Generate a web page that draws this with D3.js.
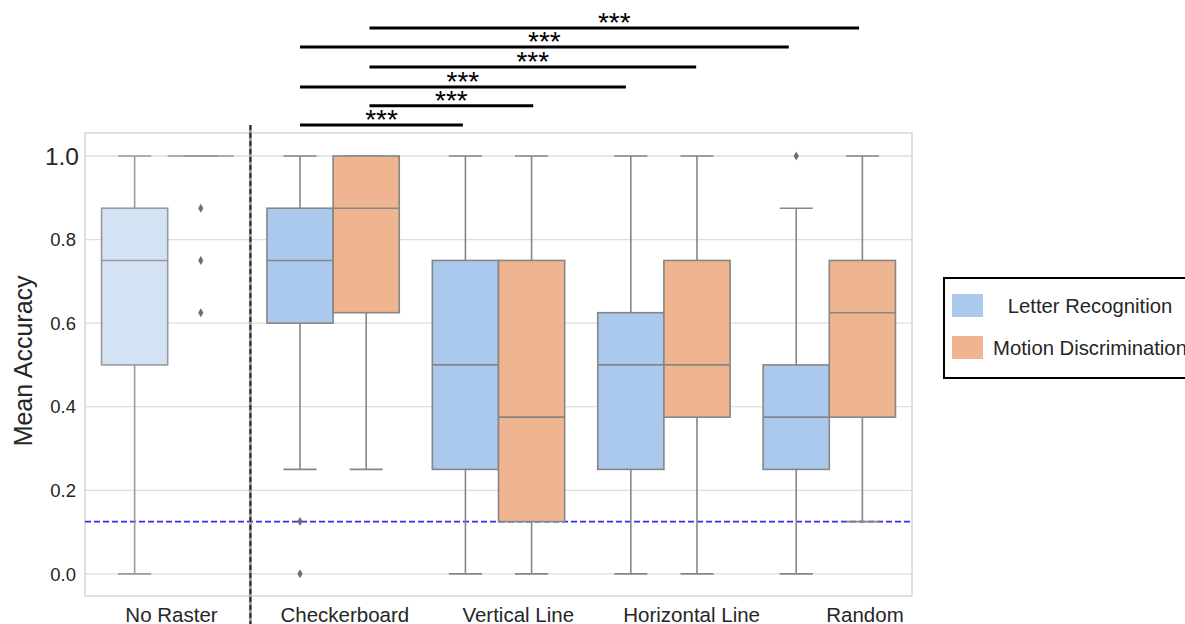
<!DOCTYPE html>
<html lang="en">
<head>
    <meta charset="UTF-8">
    <title>Mean Accuracy by Raster Type</title>
    <script src="https://d3js.org/d3.v7.min.js"></script>
    <style>
        body {
            margin: 0;
            background: #fff;
        }
        svg {
            display: block;
            font-family: "Liberation Sans", Arial, sans-serif;
        }
        .tick-label {
            fill: #262626;
            font-size: 18.5px;
        }
        .x-label {
            fill: #262626;
            font-size: 20.5px;
            text-anchor: middle;
        }
        .legend-text {
            fill: #262626;
            font-size: 20.3px;
            text-anchor: middle;
        }
    </style>
</head>
<body>
    <svg id="chart" width="1185" height="624"></svg>

    <script>
        const groups = ["No Raster", "Checkerboard", "Vertical Line", "Horizontal Line", "Random"];
        const seriesNames = ["Letter Recognition", "Motion Discrimination"];

        // [lower whisker, q1, median, q3, upper whisker]
        const letterStats = [
            [0, 0.5, 0.75, 0.875, 1],
            [0.25, 0.6, 0.75, 0.875, 1],
            [0, 0.25, 0.5, 0.75, 1],
            [0, 0.25, 0.5, 0.625, 1],
            [0, 0.25, 0.375, 0.5, 0.875]
        ];
        const letterOutliers = [[], [0.125, 0], [], [], [1]];

        const motionStats = [
            [1, 1, 1, 1, 1],
            [0.25, 0.625, 0.875, 1, 1],
            [0, 0.125, 0.375, 0.75, 1],
            [0, 0.375, 0.5, 0.75, 1],
            [0.125, 0.375, 0.625, 0.75, 1]
        ];
        const motionOutliers = [[0.875, 0.75, 0.625], [], [], [], []];

        const yTicks = [0, 0.2, 0.4, 0.6, 0.8, 1.0];
        const chanceLevel = 0.125;

        // significance brackets, x in category units (0 = No Raster), y in accuracy units
        const sigStart = [0.8, 1.22, 0.8, 1.22, 0.8, 1.22];
        const sigEnd = [1.785, 2.21, 2.77, 3.195, 3.755, 4.18];
        const sigLevel = [1.074, 1.12, 1.165, 1.213, 1.261, 1.306];
        const sigLabel = ["***", "***", "***", "***", "***", "***"];

        const margin = {top: 133, right: 273, bottom: 28, left: 85};
        const width = 1185 - margin.left - margin.right;
        const height = 624 - margin.top - margin.bottom;

        const colors = ["#abc9ec", "#efb590"];
        const lineGray = "#868686";

        const svg = d3.select("#chart");
        const g = svg.append("g").attr("transform", `translate(${margin.left},${margin.top})`);

        const xScale = d3.scaleBand().domain(groups).range([0, width]).padding(0);
        const bw = xScale.bandwidth();
        const catX = u => (u + 0.5) * bw; // category units to pixels
        const yScale = d3.scaleLinear().domain([-0.053, 1.055]).range([height, 0]);

        // grid
        g.selectAll(".grid")
            .data(yTicks)
            .join("line")
            .attr("x1", 0).attr("x2", width)
            .attr("y1", d => yScale(d)).attr("y2", d => yScale(d))
            .attr("stroke", "#dedede")
            .attr("stroke-width", 1.3);

        // frame
        g.append("rect")
            .attr("width", width).attr("height", height)
            .attr("fill", "none")
            .attr("stroke", "#d9d9d9")
            .attr("stroke-width", 1.6);

        // y tick labels (1.0 is drawn larger in the original)
        g.selectAll(".tick-label")
            .data(yTicks)
            .join("text")
            .attr("class", "tick-label")
            .attr("x", d => d === 1 ? -6 : -9)
            .attr("y", d => yScale(d))
            .attr("dy", "0.36em")
            .attr("text-anchor", "end")
            .style("font-size", d => d === 1 ? "24.5px" : null)
            .text(d => d.toFixed(1));

        svg.append("text")
            .attr("transform", `translate(32,${margin.top + yScale(0.5) - 4}) rotate(-90)`)
            .attr("text-anchor", "middle")
            .attr("fill", "#262626")
            .style("font-size", "25px")
            .text("Mean Accuracy");

        // x labels sit a little to the right of the band centres in the original
        const labelScale = d3.scalePoint().domain(groups).range([86.5, 780]);
        g.selectAll(".x-label")
            .data(groups)
            .join("text")
            .attr("class", "x-label")
            .attr("x", d => labelScale(d))
            .attr("y", 622 - margin.top)
            .text(d => d);

        // chance line
        g.append("line")
            .attr("x1", 0).attr("x2", width)
            .attr("y1", yScale(chanceLevel)).attr("y2", yScale(chanceLevel))
            .attr("stroke", "#2f2ff8")
            .attr("stroke-width", 1.6)
            .attr("stroke-dasharray", "6,3");

        // boxes
        const boxes = [];
        groups.forEach((grp, i) => {
            boxes.push({grp, s: 0, stats: letterStats[i], out: letterOutliers[i]});
            boxes.push({grp, s: 1, stats: motionStats[i], out: motionOutliers[i]});
        });

        const boxW = bw * 0.4;
        const boxCenter = d => xScale(d.grp) + bw / 2 + (d.s === 0 ? -bw * 0.2 : bw * 0.2);

        const boxG = g.selectAll(".box")
            .data(boxes)
            .join("g")
            .attr("class", "box");

        boxG.each(function(d) {
            const sel = d3.select(this);
            const cx = boxCenter(d);
            const [lo, q1, med, q3, hi] = d.stats;
            const faded = d.grp === "No Raster";
            const fill = faded && d.s === 0 ? "#d4e3f4" : colors[d.s];
            const stroke = faded ? "#9a9a9a" : lineGray;

            // whiskers
            sel.append("line")
                .attr("x1", cx).attr("x2", cx)
                .attr("y1", yScale(lo)).attr("y2", yScale(q1))
                .attr("stroke", stroke).attr("stroke-width", 1.6);
            sel.append("line")
                .attr("x1", cx).attr("x2", cx)
                .attr("y1", yScale(q3)).attr("y2", yScale(hi))
                .attr("stroke", stroke).attr("stroke-width", 1.6);
            [lo, hi].forEach(v => {
                sel.append("line")
                    .attr("x1", cx - boxW / 4).attr("x2", cx + boxW / 4)
                    .attr("y1", yScale(v)).attr("y2", yScale(v))
                    .attr("stroke", stroke).attr("stroke-width", 1.6);
            });

            sel.append("rect")
                .attr("x", cx - boxW / 2)
                .attr("y", yScale(q3))
                .attr("width", boxW)
                .attr("height", yScale(q1) - yScale(q3))
                .attr("fill", fill)
                .attr("stroke", stroke)
                .attr("stroke-width", 1.6);

            sel.append("line")
                .attr("x1", cx - boxW / 2).attr("x2", cx + boxW / 2)
                .attr("y1", yScale(med)).attr("y2", yScale(med))
                .attr("stroke", stroke).attr("stroke-width", 1.6);

            sel.selectAll(".flier")
                .data(d.out)
                .join("path")
                .attr("class", "flier")
                .attr("transform", v => `translate(${cx},${yScale(v)})`)
                .attr("d", "M0,-4.5L2.6,0L0,4.5L-2.6,0Z")
                .attr("fill", "#6e6e6e");
        });

        // dashed divider between No Raster and the raster conditions
        const divX = margin.left + xScale("Checkerboard");
        svg.append("line")
            .attr("x1", divX).attr("x2", divX)
            .attr("y1", 125).attr("y2", 624)
            .attr("stroke", "#a0a0a0")
            .attr("stroke-width", 3);
        svg.append("line")
            .attr("x1", divX).attr("x2", divX)
            .attr("y1", 125).attr("y2", 624)
            .attr("stroke", "#222")
            .attr("stroke-width", 1.8)
            .attr("stroke-dasharray", "5,3");

        // significance brackets
        const sig = sigLevel.map((lv, i) => ({x1: sigStart[i], x2: sigEnd[i], lv, label: sigLabel[i]}));
        g.selectAll(".sig-line")
            .data(sig)
            .join("line")
            .attr("x1", d => catX(d.x1)).attr("x2", d => catX(d.x2))
            .attr("y1", d => yScale(d.lv)).attr("y2", d => yScale(d.lv))
            .attr("stroke", "#000")
            .attr("stroke-width", 3);
        g.selectAll(".sig-text")
            .data(sig)
            .join("text")
            .attr("x", d => (catX(d.x1) + catX(d.x2)) / 2)
            .attr("y", d => yScale(d.lv) + 4)
            .attr("text-anchor", "middle")
            .attr("fill", "#000")
            .style("font-size", "28px")
            .text(d => d.label);

        // legend
        const legend = svg.append("g").attr("transform", "translate(944,278)");
        legend.append("rect")
            .attr("width", 260).attr("height", 100)
            .attr("fill", "#fff")
            .attr("stroke", "#000")
            .attr("stroke-width", 2);
        seriesNames.forEach((name, i) => {
            legend.append("rect")
                .attr("x", 8).attr("y", 16 + i * 42)
                .attr("width", 31).attr("height", 23)
                .attr("fill", colors[i]);
            legend.append("text")
                .attr("class", "legend-text")
                .attr("x", 146)
                .attr("y", 35 + i * 42)
                .text(name);
        });
    </script>
</body>
</html>
